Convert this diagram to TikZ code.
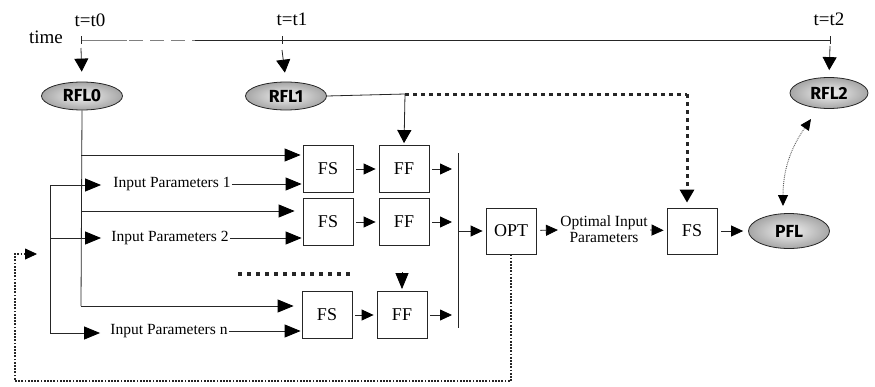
\documentclass[tikz,border=0pt]{standalone}
\usepackage{fontspec}
\setmainfont{Liberation Serif}
\newfontfamily\ellfont{Fira Sans}
\usetikzlibrary{shapes.geometric,arrows.meta,positioning}

\begin{document}
\begin{tikzpicture}[x=1pt,y=-1pt,
    line width=0.8pt, draw=black!85,
    blk/.style={draw, fill=white, minimum width=50, minimum height=47, inner sep=0pt, font=\fontsize{18}{20}\selectfont},
    ell/.style={ellipse, draw, inner color=gray!10, outer color=gray!70, minimum width=81, minimum height=28, inner sep=0pt, font=\ellfont\bfseries\fontsize{17.5}{19}\selectfont},
    lbl/.style={font=\fontsize{15.5}{18}\selectfont, inner sep=1pt},
    tlbl/.style={font=\fontsize{19}{21}\selectfont, inner sep=0pt},
    arr/.style={-{Triangle[length=16pt,width=13pt,color=black]}},
    sarr/.style={-{Triangle[length=12pt,width=11pt,color=black]}},
    barr/.style={-{Triangle[length=13pt,width=14pt,color=black]}},
    fatdot/.style={line width=3pt, dash pattern=on 4pt off 4pt},
    loopdot/.style={line width=2.2pt, dash pattern=on 1.8pt off 1.4pt}]
    \useasboundingbox (0,0) rectangle (875,386);

    % time axis
    \coordinate (t0) at (81,40);
    \coordinate (t1) at (282,40);
    \coordinate (t2) at (830,40);
    \node[tlbl] (time) at (46,37) {time};
    \node[tlbl] (lt0) at (90,20) {t=t0};
    \node[tlbl] (lt1) at (292,19) {t=t1};
    \node[tlbl] (lt2) at (829,19) {t=t2};
    \draw[gray, line width=0.6pt] (t0) -- (127,40);
    \draw[gray, line width=0.9pt, dash pattern=on 14pt off 7pt] (129,40) -- (195,40);
    \draw (195,40) -- (t2);
    \draw[line width=0.6pt] (81,36) -- (81,44);
    \draw[line width=0.6pt] (282,36) -- (282,44);
    \draw[line width=0.6pt] (830,36) -- (830,44);

    % reference and predicted fields
    \node[ell] (rfl0) at (82,96) {RFL0};
    \node[ell] (rfl1) at (286,96) {RFL1};
    \node[ell, minimum width=78, minimum height=31] (rfl2) at (829,93) {RFL2};
    \node[ell, minimum height=35] (pfl) at (789,231) {PFL};

    \coordinate (a0) at (81,48);
    \coordinate (a1) at (282,50);
    \coordinate (a2) at (830,46);
    \draw[barr, shorten >=10pt] (a0) -- (rfl0.north);
    \draw[barr, shorten >=9pt] (a1) -- (rfl1.north);
    \draw[barr, shorten >=7pt] (a2) -- (rfl2.north);

    % blocks
    \node[blk] (fs1) at (328,169) {FS};
    \node[blk] (ff1) at (404,169) {FF};
    \node[blk] (fs2) at (328,222) {FS};
    \node[blk] (ff2) at (404,222) {FF};
    \node[blk] (fs3) at (327,315) {FS};
    \node[blk] (ff3) at (402,315) {FF};
    \node[blk, minimum height=46] (opt) at (511,231) {OPT};
    \node[blk, minimum height=46] (fsf) at (692,231) {FS};

    % inputs
    \node[lbl] (in1) at (172,184) {Input Parameters 1};
    \node[lbl] (in2) at (170,238) {Input Parameters 2};
    \node[lbl] (inn) at (169,331) {Input Parameters n};
    \node[lbl, align=center] (oip) at (604,229) {Optimal Input\\[-2pt]Parameters};

    % RFL0 branches
    \coordinate (r1) at (81,155);
    \coordinate (r2) at (81,211);
    \coordinate (r3) at (81,306);
    \draw (rfl0.south) -- (r3);
    \draw[arr, shorten >=2pt] (r1) -- (fs1.west |- r1);
    \draw[arr, shorten >=8pt] (r2) -- (fs2.west |- r2);
    \draw[arr, shorten >=8pt] (r3) -- (fs3.west |- r3);

    % parameter branches
    \coordinate (p1) at (50,185);
    \coordinate (p2) at (50,238);
    \coordinate (pn) at (50,333);
    \draw (p1) -- (pn);
    \draw[arr, shorten >=11pt] (p1) -- (in1.west |- p1);
    \draw[arr, shorten >=9pt] (p2) -- (in2.west |- p2);
    \draw[arr, shorten >=9pt] (pn) -- (inn.west |- pn);
    \draw[arr, shorten >=1pt] (in1.east) -- (fs1.west |- in1.east);
    \draw[arr, shorten >=1pt] (in2.east) -- (fs2.west |- in2.east);
    \draw[arr, shorten >=1pt] (inn.east) -- (fs3.west |- inn.east);

    % FS -> FF -> collector
    \coordinate (b1) at (458,153);
    \coordinate (b2) at (458,328);
    \draw (b1) -- (b2);
    \foreach \s/\f in {fs1/ff1, fs2/ff2, fs3/ff3} {
        \draw[sarr, shorten <=3pt, shorten >=3pt] (\s) -- (\f);
        \draw[sarr, shorten <=3pt, shorten >=6pt] (\f.east) -- (\f.east -| b1);
    }
    \draw[sarr, shorten >=3pt] (opt.west -| b1) -- (opt.west);
    \draw[sarr, shorten <=4pt, shorten >=1pt] (opt) -- (oip);
    \draw[sarr, shorten <=1pt, shorten >=3pt] (oip) -- (fsf);
    \draw[sarr, shorten <=4pt, shorten >=5pt] (fsf) -- (pfl);

    % RFL1 into FF and final FS
    \coordinate (j1) at (405,94);
    \draw (rfl1.east) -- (j1);
    \draw[barr, shorten >=2pt] (j1) -- (ff1.north);
    \draw[fatdot] (j1) -- (687,94);
    \draw[fatdot, barr, shorten >=5pt] (687,94) -- (fsf.north -| 687,0);

    % more rows
    \coordinate (m1) at (238,274);
    \coordinate (m2) at (352,274);
    \draw[line width=4pt, dash pattern=on 4pt off 5pt] (m1) -- (m2);
    \coordinate (fi) at (402,272);
    \draw[arr, shorten >=2pt] (fi) -- (ff3.north);

    % feedback loop
    \coordinate (l1) at (511,381);
    \coordinate (l2) at (15,381);
    \coordinate (l3) at (15,254);
    \coordinate (l4) at (37,254);
    \draw[loopdot] (opt.south) -- (l1) -- (l2) -- (l3) -- (25,254);
    \draw[sarr] (25,254) -- (l4);

    % comparison
    \coordinate (pb) at (783,206);
    \coordinate (rb) at (811,119);
    \draw[gray!70!black, line width=0.9pt, densely dotted, {Triangle[length=11pt,width=10pt,color=black]}-{Triangle[length=11pt,width=10pt,color=black]}] (pb) to[out=90, in=235] (rb);
\end{tikzpicture}
\end{document}
